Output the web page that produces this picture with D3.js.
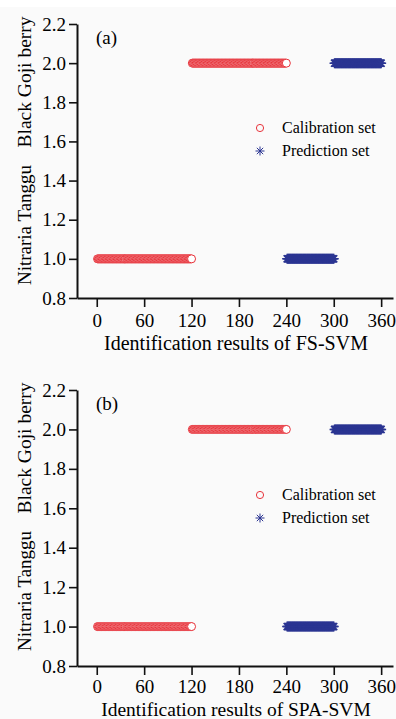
<!DOCTYPE html>
<html>
<head>
  <script src="https://d3js.org/d3.v7.min.js"></script>
  <style>
    body { margin: 0; background: #fafafa; }
    text { font-family: "Liberation Serif", "Times New Roman", serif; fill: #000; }
  </style>
</head>
<body>
<div id="chart"></div>
<script>
// sample index runs: [first, last, identified class]
var calRuns = [[1, 120, 1], [121, 240, 2]];
var predRuns = [[241, 300, 1], [301, 360, 2]];

var panelNames = ["(a)", "(b)"];
var panelTitles = ["Identification results of FS-SVM", "Identification results of SPA-SVM"];
var xTicks = [0, 60, 120, 180, 240, 300, 360];
var yTicks = [0.8, 1.0, 1.2, 1.4, 1.6, 1.8, 2.0, 2.2];
var classNames = ["Nitraria Tanggu", "Black Goji berry"];
var legendNames = ["Calibration set", "Prediction set"];

var width = 396, height = 719;
var red = "#e8343c", blue = "#2b3592";

// expand runs into points
function expand(runs) {
  var pts = [];
  runs.forEach(function (r) {
    d3.range(r[0], r[1] + 1).forEach(function (i) { pts.push({ x: i, y: r[2] }); });
  });
  return pts;
}
var calData = expand(calRuns);
var predData = expand(predRuns);

var svg = d3.select("#chart").append("svg")
  .attr("width", width)
  .attr("height", height);

svg.append("rect").attr("width", width).attr("height", 7).attr("fill", "#fff");

function starPath(r) {
  var d = "";
  for (var k = 0; k < 4; k++) {
    var a = k * Math.PI / 4;
    var dx = r * Math.cos(a), dy = r * Math.sin(a);
    d += "M" + (-dx) + "," + (-dy) + "L" + dx + "," + dy;
  }
  return d;
}

// panel layout
var panels = [
  { top: 24, bottom: 298, tickBase: 327, titleBase: 350, titleSize: 20, legendY: 128 },
  { top: 390, bottom: 666, tickBase: 693, titleBase: 716, titleSize: 19.5, legendY: 495 }
];

panels.forEach(function (p, pi) {
  var x = d3.scaleLinear().domain([-25, 375]).range([77, 393]);
  var y = d3.scaleLinear().domain([0.8, 2.2]).range([p.bottom, p.top]);

  var g = svg.append("g");

  var xAxis = g.append("g")
    .attr("transform", "translate(0," + p.bottom + ")")
    .call(d3.axisBottom(x).tickValues(xTicks).tickSize(9).tickSizeOuter(0).tickPadding(6));
  var yAxis = g.append("g")
    .attr("transform", "translate(77,0)")
    .call(d3.axisLeft(y).tickValues(yTicks).tickSize(8).tickSizeOuter(0).tickPadding(3)
      .tickFormat(d3.format(".1f")));

  [xAxis, yAxis].forEach(function (a) {
    a.select(".domain").attr("stroke", "#111").attr("stroke-width", 2);
    a.selectAll(".tick line").attr("stroke", "#111").attr("stroke-width", 1.6);
    a.selectAll(".tick text").attr("font-size", 19).attr("fill", "#000");
  });
  xAxis.selectAll(".tick text").attr("dy", null).attr("y", p.tickBase - p.bottom);

  // panel label
  g.append("text").attr("x", 96).attr("y", p.top + 20)
    .attr("font-size", 19).text(panelNames[pi]);

  // x title
  g.append("text").attr("x", 236).attr("y", p.titleBase)
    .attr("text-anchor", "middle").attr("font-size", p.titleSize).text(panelTitles[pi]);

  // y class labels (rotated)
  g.append("text")
    .attr("transform", "translate(31," + (p.top + 58) + ") rotate(-90)")
    .attr("text-anchor", "middle").attr("font-size", 19.5).text(classNames[1]);
  g.append("text")
    .attr("transform", "translate(31," + (p.top + 201) + ") rotate(-90)")
    .attr("text-anchor", "middle").attr("font-size", 19).text(classNames[0]);

  // calibration circles
  g.append("g").selectAll("circle")
    .data(calData).enter().append("circle")
    .attr("cx", function (d) { return x(d.x); })
    .attr("cy", function (d) { return y(d.y); })
    .attr("r", 4)
    .attr("fill", "#fff")
    .attr("stroke", red)
    .attr("stroke-width", 1);

  // prediction stars
  g.append("g").selectAll("path")
    .data(predData).enter().append("path")
    .attr("transform", function (d) { return "translate(" + x(d.x) + "," + y(d.y) + ")"; })
    .attr("d", starPath(5))
    .attr("stroke", blue)
    .attr("stroke-width", 1.5);

  // legend
  var lg = g.append("g").attr("transform", "translate(260," + p.legendY + ")");
  lg.append("circle").attr("r", 3.6).attr("fill", "none").attr("stroke", red).attr("stroke-width", 1);
  lg.append("path").attr("transform", "translate(0,23)").attr("d", starPath(4.5))
    .attr("stroke", blue).attr("stroke-width", 1);
  lg.append("text").attr("x", 22).attr("y", 5).attr("font-size", 16).text(legendNames[0]);
  lg.append("text").attr("x", 22).attr("y", 28).attr("font-size", 16).text(legendNames[1]);
});
</script>
</body>
</html>
